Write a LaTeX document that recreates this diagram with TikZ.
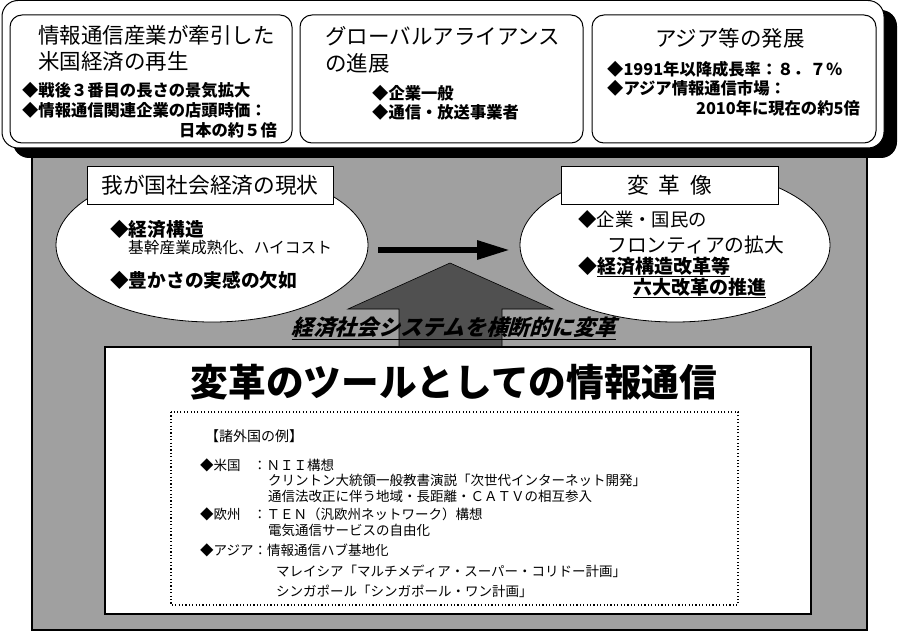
\documentclass[tikz,border=0pt]{standalone}
\usepackage{fontspec}
\setmainfont{Noto Sans CJK JP}
\newfontfamily\slantjp[FakeSlant=0.3]{Noto Sans CJK JP}
\usetikzlibrary{shapes.geometric,arrows.meta}
\definecolor{panelgray}{HTML}{A0A0A0}
\definecolor{arrowgray}{HTML}{505050}
\newcommand{\fsz}[1]{\fontsize{#1}{#1}\selectfont}
\tikzset{
  txt/.style={inner sep=0pt, anchor=west},
  txe/.style={inner sep=0pt, anchor=east},
  txc/.style={inner sep=0pt},
  headA/.style={font=\fsz{21.5}},
  bulA/.style={font=\bfseries\fsz{16.3}},
  small/.style={font=\fsz{13.5}},
  tbox/.style={draw, line width=1pt, fill=white, rounded corners=12pt},
  ovl/.style={ellipse, draw, line width=0.8pt, fill=white, inner sep=0pt},
  lbl/.style={draw, line width=0.8pt, fill=white, inner sep=0pt, font=\fsz{21.7}},
}
\begin{document}
\begin{tikzpicture}[x=1pt,y=-1pt]
\useasboundingbox (0,0) rectangle (900,631);
\fill[white] (0,0) rectangle (900,631);

% gray panel
\draw[fill=panelgray, line width=1.6pt] (32,150) rectangle (867,630);

% top container with shadow
\fill[black, rounded corners=16pt] (13,10) rectangle (897,158);
\draw[fill=white, line width=1pt, rounded corners=16pt] (2,0.5) rectangle (884,148);

% three inner boxes
\draw[tbox] (10,15) rectangle (292,143);
\draw[tbox] (300,15) rectangle (583,143);
\draw[tbox] (592,15) rectangle (876,143);

% box 1 texts
\node[txt, headA] (t1a) at (38,35) {情報通信産業が牽引した};
\node[txt, headA] (t1b) at (38,61) {米国経済の再生};
\node[txt, bulA] (t1c) at (22,90) {◆戦後３番目の長さの景気拡大};
\node[txt, bulA] (t1d) at (22,110) {◆情報通信関連企業の店頭時価：};
\node[txe, bulA] (t1e) at (277,130) {日本の約５倍};

% box 2 texts
\node[txt, headA] (t2a) at (325,36) {グローバルアライアンス};
\node[txt, headA] (t2b) at (325,63) {の進展};
\node[txt, bulA] (t2c) at (372,93) {◆企業一般};
\node[txt, bulA] (t2d) at (372,112) {◆通信・放送事業者};

% box 3 texts
\node[txc, headA] (t3a) at (730,38) {アジア等の発展};
\node[txt, bulA] (t3b) at (607,69) {◆1991年以降成長率：８．７％};
\node[txt, bulA] (t3c) at (607,88) {◆アジア情報通信市場：};
\node[txe, bulA] (t3d) at (860,108) {2010年に現在の約5倍};

% big up arrow
\draw[fill=arrowgray, line width=0.6pt] (399,348) -- (399,309) -- (348,309) -- (450,263) -- (553,309) -- (502,309) -- (502,348);

% ellipses
\node[ovl, minimum width=312pt, minimum height=154pt] (L) at (212,245) {};
\node[ovl, minimum width=310pt, minimum height=154pt] (R) at (675,245) {};

% label boxes
\node[lbl, minimum width=246pt, minimum height=38pt] (Lt) at (210,185) {我が国社会経済の現状};
\node[lbl, minimum width=217pt, minimum height=38pt] (Rt) at (669.5,185) {変\hspace{0.45em}革\hspace{0.45em}像};

% left ellipse texts
\node[txt, font=\bfseries\fsz{18.7}] (l1) at (110,229) {◆経済構造};
\node[txt, font=\fsz{15.7}] (l2) at (128,248) {基幹産業成熟化、ハイコスト};
\node[txt, font=\bfseries\fsz{18.7}] (l3) at (110,280) {◆豊かさの実感の欠如};

% right ellipse texts
\node[txt, font=\fsz{18.4}] (r1) at (578,220) {◆企業・国民の};
\node[txt, font=\fsz{19.8}] (r2) at (607,245) {フロンティアの拡大};
\node[txt, font=\bfseries\fsz{19}] (r3) at (578,267) {◆\underline{経済構造改革等}};
\node[txt, font=\bfseries\fsz{19}] (r4) at (633,288) {\underline{六大改革の推進}};

% horizontal arrow
\coordinate (h1) at (378,250);
\coordinate (h2) at (510,250);
\draw[line width=6pt, -{Triangle[length=33pt,width=18pt]}] (h1) -- (h2);

% slanted caption
\node[txc, font=\slantjp\bfseries\fsz{21.7}] (cap) at (454,328) {\underline{経済社会システムを横断的に変革}};

% white box
\draw[fill=white, line width=1.6pt] (105,347) rectangle (811,614);
\node[txc, font=\bfseries\fsz{37.7}] (title) at (454,382) {変革のツールとしての情報通信};

% dotted box
\draw[line width=1.1pt, dash pattern=on 1.1pt off 2.3pt] (171,412) rectangle (738,605);

\node[txt, font=\fsz{14}] (d0) at (205,436) {【諸外国の例】};
\node[txt, small] (d1) at (200,465) {◆米国};
\node[txt, small] (d1b) at (253,465) {：ＮＩＩ構想};
\node[txt, small] (d2) at (268,480) {クリントン大統領一般教書演説「次世代インターネット開発」};
\node[txt, small] (d3) at (268,496) {通信法改正に伴う地域・長距離・ＣＡＴＶの相互参入};
\node[txt, small] (d4) at (200,514) {◆欧州};
\node[txt, small] (d4b) at (253,514) {：ＴＥＮ（汎欧州ネットワーク）構想};
\node[txt, small] (d5) at (268,530) {電気通信サービスの自由化};
\node[txt, small] (d6) at (200,550) {◆アジア：情報通信ハブ基地化};
\node[txt, small] (d7) at (276,571) {マレイシア「マルチメディア・スーパー・コリドー計画」};
\node[txt, small] (d8) at (276,591) {シンガポール「シンガポール・ワン計画」};
\end{tikzpicture}
\end{document}
